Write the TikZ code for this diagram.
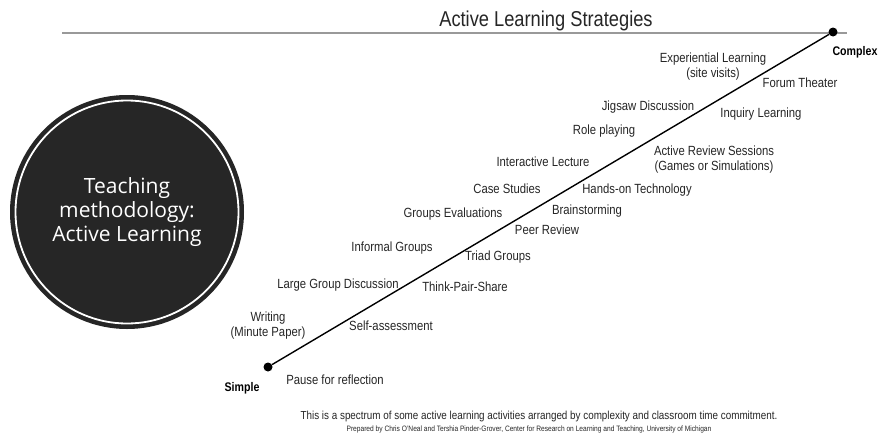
\documentclass[tikz,border=0pt]{standalone}
\usepackage{fontspec}
\setmainfont{Liberation Sans}[FakeStretch=0.85]
\newfontfamily\circfont{Open Sans}
\begin{document}
\begin{tikzpicture}[x=1pt,y=-1pt,
  lbl/.style={font=\fontsize{13.3}{15}\selectfont, text=black!85, inner sep=0pt, align=center},
  endlbl/.style={font=\fontsize{12.5}{14}\selectfont\bfseries, inner sep=0pt},
  dot/.style={circle, fill=black, inner sep=0pt, minimum size=9pt},
  ]
\useasboundingbox (0,0) rectangle (878,442);
\fill[white] (0,0) rectangle (878,442);
% top rule
\coordinate (tl) at (62,33);
\coordinate (tr) at (847,33);
\draw[black!40, line width=1.2pt] (tl) -- (tr);
\node[font=\fontsize{21.5}{24}\selectfont, text=black!85, inner sep=0pt] (title) at (546,21) {Active Learning Strategies};
% circle
\node[circle, fill=black!85, minimum size=234pt, inner sep=0pt] (circ) at (127,212) {};
\draw[white, line width=1.8pt] (circ.center) circle[radius=111.5];
\node[font=\circfont\fontsize{21}{24}\selectfont, text=white, align=center, inner sep=0pt] (ctext) at (127,212) {Teaching\\methodology:\\Active Learning};
% spectrum line
\node[dot] (s) at (268,367) {};
\node[dot] (c) at (833,32) {};
\draw[line width=1.4pt] (s) -- (c);
\node[endlbl] (simple) at (242,388) {Simple};
\node[endlbl] (complex) at (855,52) {Complex};
% labels
\node[lbl] (pause) at (335,380) {Pause for reflection};
\node[lbl] (writing) at (268,326) {Writing\\(Minute Paper)};
\node[lbl] (self) at (391,326) {Self-assessment};
\node[lbl] (large) at (338,285) {Large Group Discussion};
\node[lbl] (think) at (465,287) {Think-Pair-Share};
\node[lbl] (informal) at (392,248) {Informal Groups};
\node[lbl] (triad) at (498,257) {Triad Groups};
\node[lbl] (groups) at (453,214) {Groups Evaluations};
\node[lbl] (peer) at (547,230) {Peer Review};
\node[lbl] (brain) at (587,211) {Brainstorming};
\node[lbl] (case) at (507,189) {Case Studies};
\node[lbl] (hands) at (637,190) {Hands-on Technology};
\node[lbl] (inter) at (543,162) {Interactive Lecture};
\node[lbl] (review) at (714,160) {Active Review Sessions\\(Games or Simulations)};
\node[lbl] (role) at (604,131) {Role playing};
\node[lbl] (inquiry) at (761,114) {Inquiry Learning};
\node[lbl] (jigsaw) at (648,107) {Jigsaw Discussion};
\node[lbl] (forum) at (800,83) {Forum Theater};
\node[lbl] (exp) at (713,67) {Experiential Learning\\(site visits)};
% captions
\node[font=\fontsize{11.6}{13}\selectfont, text=black!85, inner sep=0pt] (cap) at (539,416) {This is a spectrum of some active learning activities arranged by complexity and classroom time commitment.};
\node[font=\fontsize{7.8}{10}\selectfont, text=black!85, inner sep=0pt] (prep) at (529,429) {Prepared by Chris O'Neal and Tershia Pinder-Grover, Center for Research on Learning and Teaching, University of Michigan};
\end{tikzpicture}
\end{document}
